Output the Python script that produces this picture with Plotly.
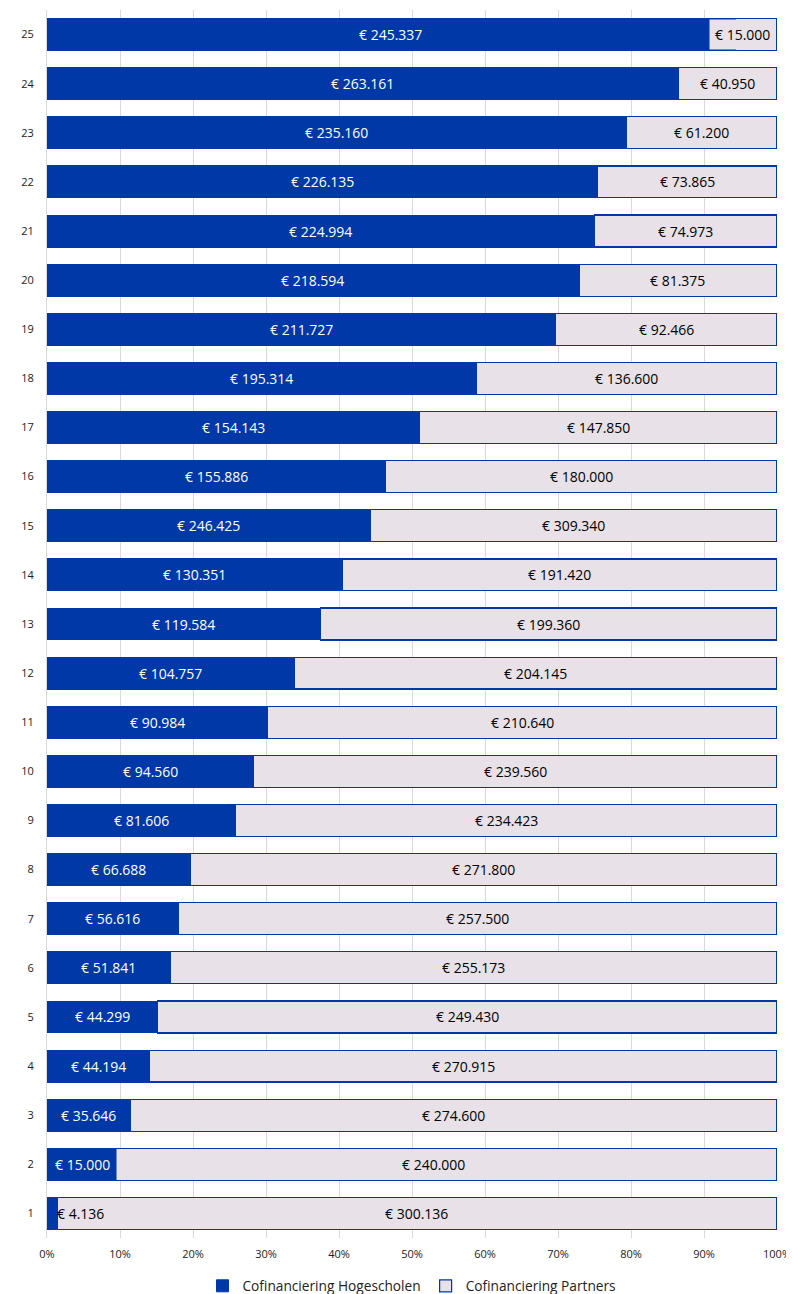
import plotly.graph_objects as go

categories = [str(i) for i in range(1, 26)]
hogescholen = [4136, 15000, 35646, 44194, 44299, 51841, 56616, 66688, 81606, 94560,
               90984, 104757, 119584, 130351, 246425, 155886, 154143, 195314, 211727,
               218594, 224994, 226135, 235160, 263161, 245337]
partners = [300136, 240000, 274600, 270915, 249430, 255173, 257500, 271800, 234423, 239560,
            210640, 204145, 199360, 191420, 309340, 180000, 147850, 136600, 92466,
            81375, 74973, 73865, 61200, 40950, 15000]
series_names = ["Cofinanciering Hogescholen", "Cofinanciering Partners"]
x_ticks = [0, 10, 20, 30, 40, 50, 60, 70, 80, 90, 100]

BLUE = "#0038A8"
LIGHT = "#E8E1E8"
FONT = "Open Sans"
LBL = 14


def eur(v):
    return "€ " + f"{v:,}".replace(",", ".")


fig = go.Figure()
fig.add_trace(go.Bar(y=categories, x=hogescholen, orientation="h", name=series_names[0],
                     marker=dict(color=BLUE, line=dict(color=BLUE, width=1)),
                     hoverinfo="skip"))
fig.add_trace(go.Bar(y=categories, x=partners, orientation="h", name=series_names[1],
                     marker=dict(color=LIGHT, line=dict(color=BLUE, width=1.2)),
                     hoverinfo="skip"))

annotations = []
for i, (h, p) in enumerate(zip(hogescholen, partners)):
    tot = h + p
    ph = 100 * h / tot
    pp = 100 * p / tot
    # Hogescholen label
    if ph < 2:
        annotations.append(dict(x=ph, y=i, text=eur(h), showarrow=False, xanchor="left",
                                xshift=-2, font=dict(color="black", size=LBL, family=FONT)))
    elif ph < 8:
        annotations.append(dict(x=0, y=i, text=eur(h), showarrow=False, xanchor="left",
                                xshift=1, bgcolor=BLUE, borderpad=6,
                                font=dict(color="white", size=LBL, family=FONT)))
    else:
        annotations.append(dict(x=ph / 2, y=i, text=eur(h), showarrow=False,
                                font=dict(color="white", size=LBL, family=FONT)))
    # Partners label
    if pp < 8:
        annotations.append(dict(x=100, y=i, text=eur(p), showarrow=False, xanchor="right",
                                xshift=-1, bgcolor=LIGHT, borderpad=5,
                                font=dict(color="black", size=LBL, family=FONT)))
    else:
        annotations.append(dict(x=ph + pp / 2, y=i, text=eur(p), showarrow=False,
                                font=dict(color="black", size=LBL, family=FONT)))

fig.update_layout(
    width=786, height=1286,
    barmode="stack", barnorm="percent", bargap=0.35,
    plot_bgcolor="white", paper_bgcolor="white",
    margin=dict(l=39, r=17, t=2, b=56, autoexpand=False),
    font=dict(family=FONT, size=11, color="#222222"),
    xaxis=dict(range=[0, 100], tickvals=x_ticks, ticktext=[f"{t}%" for t in x_ticks],
               showgrid=True, gridcolor="#D9D9D9", gridwidth=1, zeroline=False,
               showline=False, ticks="", tickfont=dict(size=11), automargin=False,
               ticklabelstandoff=8),
    yaxis=dict(categoryorder="array", categoryarray=categories, showgrid=False,
               showline=True, linecolor="#D9D9D9", linewidth=1, ticks="",
               ticklabelstandoff=10, tickfont=dict(size=11), automargin=False),
    legend=dict(orientation="h", x=0.5, xanchor="center", y=-0.039, yanchor="middle",
                font=dict(size=13.7), itemwidth=30, traceorder="normal"),
    annotations=annotations,
)

fig.write_html("out.html")
